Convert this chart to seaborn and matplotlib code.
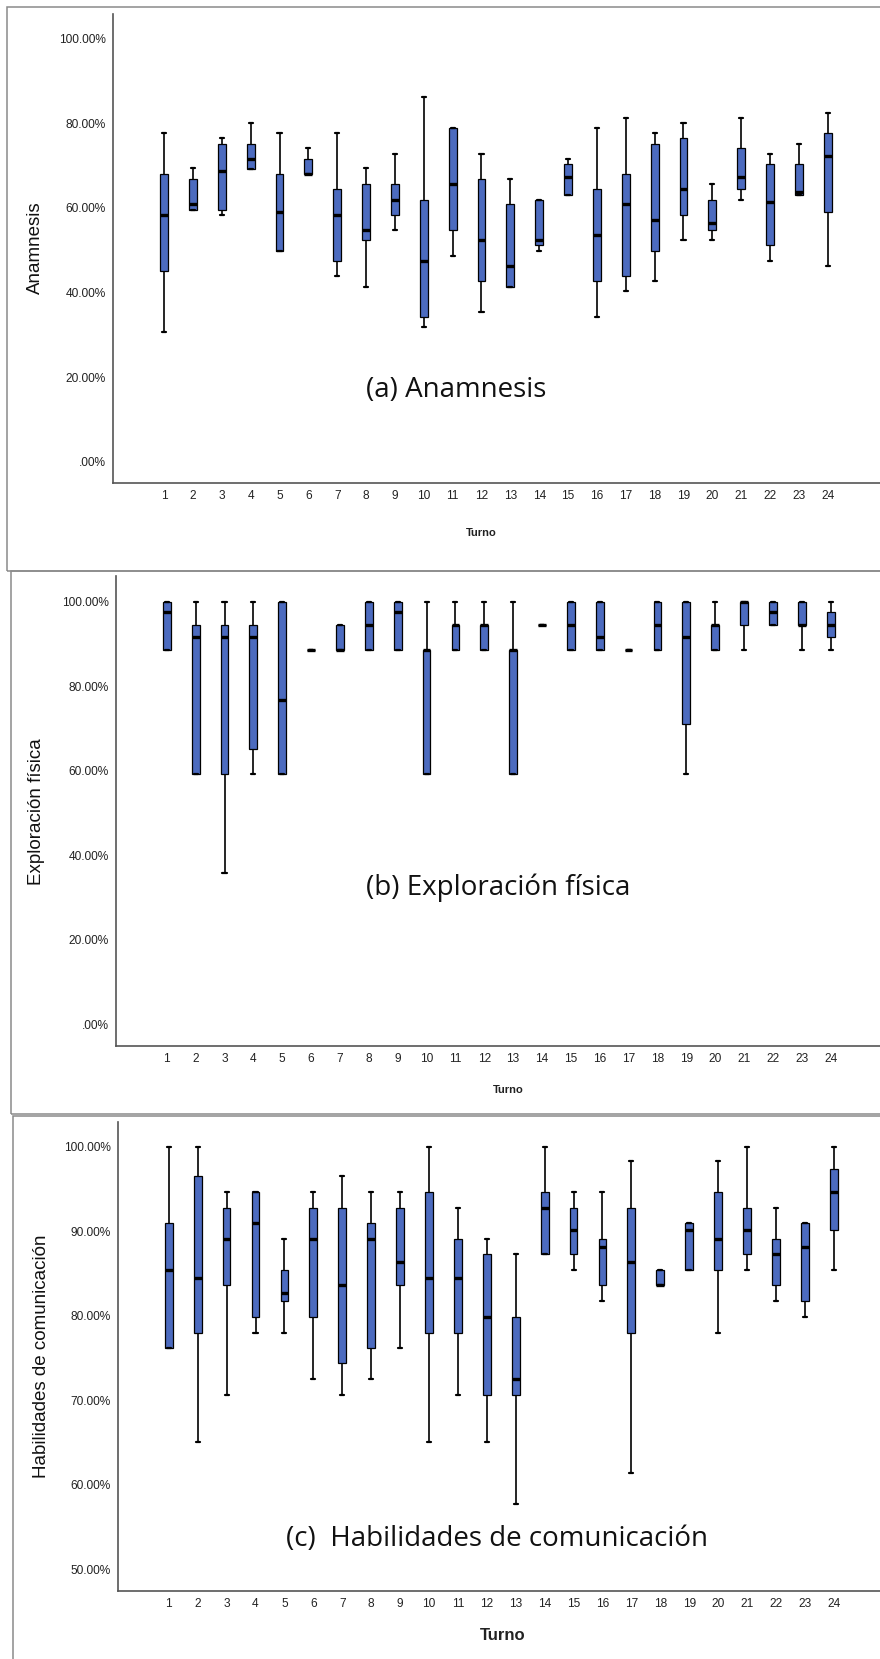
import matplotlib
matplotlib.use("Agg")
import pandas as pd
import matplotlib.pyplot as plt
from matplotlib.patches import Rectangle
import seaborn as sns


# ------------------ STYLE ------------------

sns.set_theme(style="white")
plt.rcParams["font.family"] = ["Liberation Sans", "DejaVu Sans"]

BOX_COLOR = "#4C6BBF"
SPINE_COLOR = "#555555"
FRAME_COLOR = "#8a8a8a"
W, H = 880, 1659


# ------------------ DATA ------------------

turnos = ["1", "2", "3", "4", "5", "6", "7", "8", "9", "10", "11", "12",
          "13", "14", "15", "16", "17", "18", "19", "20", "21", "22", "23", "24"]

# (a) Anamnesis: min, Q1, mediana, Q3, max (%)
anam_min = [30.6, 59.4, 58.2, 69.1, 49.9, 68.0, 43.9, 41.4, 54.7, 31.9, 48.7, 35.4,
            41.4, 49.9, 63.1, 34.3, 40.3, 42.6, 52.3, 52.3, 61.9, 47.4, 63.1, 46.2]
anam_q1 = [45.0, 59.4, 59.6, 69.1, 49.9, 68.0, 47.4, 52.3, 58.4, 34.3, 54.8, 42.6,
           41.4, 51.1, 63.1, 42.6, 43.9, 49.9, 58.4, 54.7, 64.4, 51.1, 63.1, 59.0]
anam_med = [58.4, 60.8, 68.6, 71.6, 59.0, 68.0, 58.4, 54.8, 61.9, 47.5, 65.6, 52.3,
            46.2, 52.3, 67.4, 53.5, 60.8, 57.1, 64.4, 56.5, 67.4, 61.3, 63.7, 72.2]
anam_q3 = [68.0, 66.8, 75.2, 75.2, 68.0, 71.6, 64.4, 65.6, 65.6, 61.9, 78.9, 66.8,
           60.8, 61.9, 70.4, 64.4, 68.0, 75.2, 76.5, 61.9, 74.1, 70.4, 70.4, 77.7]
anam_max = [77.7, 69.3, 76.5, 80.1, 77.7, 74.1, 77.7, 69.3, 72.8, 86.2, 78.9, 72.8,
            66.8, 61.9, 71.6, 78.9, 81.3, 77.7, 80.1, 65.6, 81.3, 72.8, 75.2, 82.5]

# (b) Exploración física
expl_min = [88.6, 59.2, 35.7, 59.2, 59.2, 88.6, 88.6, 88.6, 88.6, 59.2, 88.6, 88.6,
            59.2, 94.5, 88.6, 88.6, 88.6, 88.6, 59.2, 88.6, 88.6, 94.5, 88.6, 88.6]
expl_q1 = [88.6, 59.2, 59.2, 65.2, 59.2, 88.6, 88.6, 88.6, 88.6, 59.2, 88.6, 88.6,
           59.2, 94.5, 88.6, 88.6, 88.6, 88.6, 71.1, 88.6, 94.5, 94.5, 94.5, 91.6]
expl_med = [97.5, 91.6, 91.6, 91.6, 76.8, 88.6, 88.6, 94.5, 97.5, 88.6, 94.5, 94.5,
            88.6, 94.5, 94.5, 91.6, 88.6, 94.5, 91.6, 94.5, 100.0, 97.5, 94.5, 94.5]
expl_q3 = [100.0, 94.5, 94.5, 94.5, 100.0, 88.6, 94.5, 100.0, 100.0, 88.6, 94.5, 94.5,
           88.6, 94.5, 100.0, 100.0, 88.6, 100.0, 100.0, 94.5, 100.0, 100.0, 100.0, 97.5]
expl_max = [100.0, 100.0, 100.0, 100.0, 100.0, 88.6, 94.5, 100.0, 100.0, 100.0, 100.0, 100.0,
            100.0, 94.5, 100.0, 100.0, 88.6, 100.0, 100.0, 100.0, 100.0, 100.0, 100.0, 100.0]

# (c) Habilidades de comunicación
com_min = [76.2, 65.1, 70.6, 78.0, 78.0, 72.5, 70.6, 72.5, 76.2, 65.1, 70.6, 65.1,
           57.7, 87.3, 85.4, 81.7, 61.4, 83.6, 85.4, 78.0, 85.4, 81.7, 79.9, 85.4]
com_q1 = [76.2, 78.0, 83.6, 79.9, 81.7, 79.9, 74.4, 76.2, 83.6, 78.0, 78.0, 70.6,
          70.6, 87.3, 87.3, 83.6, 78.0, 83.6, 85.4, 85.4, 87.3, 83.6, 81.7, 90.1]
com_med = [85.4, 84.5, 89.1, 91.0, 82.7, 89.1, 83.6, 89.1, 86.4, 84.5, 84.5, 79.9,
           72.5, 92.8, 90.1, 88.2, 86.4, 83.6, 90.1, 89.1, 90.1, 87.3, 88.2, 94.7]
com_q3 = [91.0, 96.6, 92.8, 94.7, 85.4, 92.8, 92.8, 91.0, 92.8, 94.7, 89.1, 87.3,
          79.9, 94.7, 92.8, 89.1, 92.8, 85.4, 91.0, 94.7, 92.8, 89.1, 91.0, 97.4]
com_max = [100.0, 100.0, 94.7, 94.7, 89.1, 94.7, 96.6, 94.7, 94.7, 100.0, 92.8, 89.1,
           87.3, 100.0, 94.7, 94.7, 98.3, 85.4, 91.0, 98.3, 100.0, 92.8, 91.0, 100.0]

ticks_0_100 = [0, 20, 40, 60, 80, 100]
labels_0_100 = [".00%", "20.00%", "40.00%", "60.00%", "80.00%", "100.00%"]
ticks_50_100 = [50, 60, 70, 80, 90, 100]
labels_50_100 = ["50.00%", "60.00%", "70.00%", "80.00%", "90.00%", "100.00%"]


# ------------------ HELPERS ------------------

def long_table(lo, q1, med, q3, hi):
    # five-number summary per turno -> long table for seaborn
    rows = []
    for t, vals in zip(turnos, zip(lo, q1, med, q3, hi)):
        for v in vals:
            rows.append((t, v))
    return pd.DataFrame(rows, columns=["Turno", "valor"])


def to_axes(ax_box, x, y):
    left, top, right, bottom = ax_box
    return (x - left) / (right - left), (bottom - y) / (bottom - top)


# ------------------ LAYOUT ------------------

PANELS = [
    dict(df=long_table(anam_min, anam_q1, anam_med, anam_q3, anam_max),
         ylabel="Anamnesis", title="(a) Anamnesis",
         box=(113, 13.6, 880, 482.9), xlim=(-1.77, 24.81), ylim=(-5.0, 105.9),
         yticks=ticks_0_100, yticklabels=labels_0_100,
         ylabel_xy=(35, 248), title_xy=(456, 390),
         turno_xy=(481, 533), turno_size=8,
         frame=(7, 7, 571)),
    dict(df=long_table(expl_min, expl_q1, expl_med, expl_q3, expl_max),
         ylabel="Exploración física", title="(b) Exploración física",
         box=(115.7, 576, 880, 1045.7), xlim=(-1.77, 24.71), ylim=(-5.07, 106.1),
         yticks=ticks_0_100, yticklabels=labels_0_100,
         ylabel_xy=(37, 812), title_xy=(498, 888),
         turno_xy=(508, 1090), turno_size=8,
         frame=(11, 571, 1114)),
    dict(df=long_table(com_min, com_q1, com_med, com_q3, com_max),
         ylabel="Habilidades de comunicación", title="(c)  Habilidades de comunicación",
         box=(118, 1122.3, 880, 1590.7), xlim=(-1.756, 24.6), ylim=(47.48, 102.9),
         yticks=ticks_50_100, yticklabels=labels_50_100,
         ylabel_xy=(41.5, 1356), title_xy=(497, 1539),
         turno_xy=(503, 1635), turno_size=12,
         frame=(13, 1116, 1720)),
]


# ------------------ PLOTTING ------------------

fig = plt.figure(figsize=(W / 100, H / 100), dpi=100)

for p in PANELS:
    x0, y0, y1 = p["frame"]
    fig.add_artist(Rectangle((x0 / W, 1 - y1 / H), (W + 30 - x0) / W, (y1 - y0) / H,
                             transform=fig.transFigure, fill=False,
                             edgecolor=FRAME_COLOR, linewidth=1.1))

    left, top, right, bottom = p["box"]
    ax = fig.add_axes([left / W, 1 - bottom / H, (right - left) / W, (bottom - top) / H])

    sns.boxplot(
        data=p["df"], x="Turno", y="valor", order=turnos, ax=ax,
        color=BOX_COLOR, saturation=1, width=0.27, whis=(0, 100),
        linecolor="black", linewidth=0.9, showfliers=False,
        medianprops={"linewidth": 2.4, "color": "black"},
        whiskerprops={"linewidth": 1.2},
        capprops={"linewidth": 1.6},
        capwidths=0.14,
    )

    ax.set_xlim(*p["xlim"])
    ax.set_ylim(*p["ylim"])
    ax.set_yticks(p["yticks"])
    ax.set_yticklabels(p["yticklabels"])
    ax.tick_params(axis="both", length=0, labelsize=8.6, colors="#222222", pad=5)

    sns.despine(ax=ax)
    for side in ["left", "bottom"]:
        ax.spines[side].set_color(SPINE_COLOR)
        ax.spines[side].set_linewidth(1.2)

    ax.set_ylabel(p["ylabel"], fontsize=13.5, color="#111111", va="center")
    ax.yaxis.set_label_coords(*to_axes(p["box"], *p["ylabel_xy"]))
    ax.set_xlabel("Turno", fontsize=p["turno_size"], fontweight="bold",
                  color="#222222", va="center")
    ax.xaxis.set_label_coords(*to_axes(p["box"], *p["turno_xy"]))

    tx, ty = to_axes(p["box"], *p["title_xy"])
    ax.text(tx, ty, p["title"], transform=ax.transAxes, ha="center", va="center",
            fontsize=20, family=["Open Sans", "DejaVu Sans"], color="#111111")

fig.savefig("out.png", dpi=100)
plt.close(fig)
